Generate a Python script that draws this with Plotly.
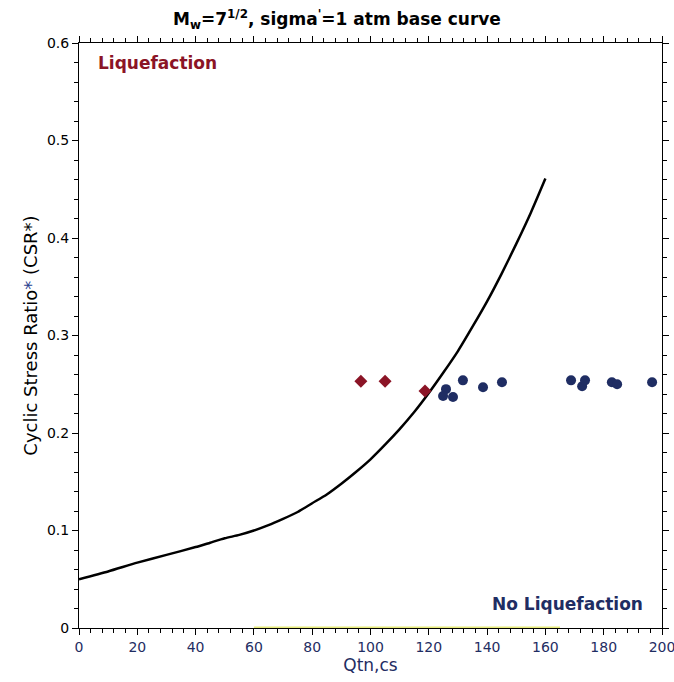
import plotly.graph_objects as go

# Base curve
curve_q = [0, 10, 20, 30, 40, 45, 50, 55, 60, 65, 70, 75, 80, 85, 90, 95, 100, 105,
           110, 115, 120, 125, 130, 135, 140, 145, 150, 155, 160]
curve_csr = [0.050, 0.058, 0.067, 0.075, 0.083, 0.0875, 0.092, 0.0955, 0.100, 0.1055,
             0.112, 0.119, 0.128, 0.137, 0.148, 0.160, 0.173, 0.188, 0.204, 0.2215,
             0.241, 0.262, 0.284, 0.309, 0.335, 0.3635, 0.394, 0.426, 0.461]

# Liquefaction points (red diamonds)
liq_q = [96.7, 105.0, 118.7]
liq_csr = [0.253, 0.253, 0.243]

# No-liquefaction points (blue circles)
noliq_q = [125.9, 124.9, 128.3, 131.7, 138.6, 145.1, 168.8, 172.6, 173.6, 182.8, 184.6, 196.6]
noliq_csr = [0.245, 0.238, 0.237, 0.254, 0.247, 0.252, 0.254, 0.248, 0.254, 0.252, 0.250, 0.252]

x_ticks = [0, 20, 40, 60, 80, 100, 120, 140, 160, 180, 200]
y_ticks = [0, 0.1, 0.2, 0.3, 0.4, 0.5, 0.6]
y_tick_labels = ["0", "0.1", "0.2", "0.3", "0.4", "0.5", "0.6"]

NAVY = "#1f2d63"
DRED = "#8b1426"
FONT = "DejaVu Sans"

fig = go.Figure()
fig.add_trace(go.Scatter(x=[60, 165], y=[0, 0], mode="lines",
                         line=dict(color="#e6ea7a", width=3), hoverinfo="skip", showlegend=False))
fig.add_trace(go.Scatter(x=curve_q, y=curve_csr, mode="lines",
                         line=dict(color="black", width=2.5, shape="spline", smoothing=0.6),
                         showlegend=False))
fig.add_trace(go.Scatter(x=liq_q, y=liq_csr, mode="markers",
                         marker=dict(symbol="diamond", size=10, color=DRED), showlegend=False))
fig.add_trace(go.Scatter(x=noliq_q, y=noliq_csr, mode="markers",
                         marker=dict(symbol="circle", size=10, color=NAVY), showlegend=False))

fig.update_layout(
    width=674, height=682,
    margin=dict(l=79, r=12, t=43, b=54),
    paper_bgcolor="white", plot_bgcolor="white",
    title=dict(text="<b>M<sub>w</sub>=7<sup>1/2</sup>, sigma<sup>'</sup>=1 atm base curve</b>",
               x=0.5, xanchor="center", y=0.972, yanchor="middle",
               font=dict(family=FONT, size=17, color="black")),
    xaxis=dict(range=[0, 200], tickvals=x_ticks, showgrid=False, zeroline=False, automargin=False,
               ticklabeloverflow="allow",
               showline=True, linecolor="black", linewidth=1, mirror="ticks",
               ticks="outside", ticklen=6, tickcolor="black",
               minor=dict(dtick=4, ticks="outside", ticklen=4, tickcolor="black"),
               tickfont=dict(family=FONT, size=14, color=NAVY),
               title=dict(text="Qtn,cs", font=dict(family=FONT, size=17, color=NAVY), standoff=4)),
    yaxis=dict(range=[0, 0.6], tickvals=y_ticks, ticktext=y_tick_labels, showgrid=False, zeroline=False,
               automargin=False,
               showline=True, linecolor="black", linewidth=1, mirror="ticks",
               ticks="outside", ticklen=6, tickcolor="black",
               minor=dict(dtick=0.02, ticks="outside", ticklen=4, tickcolor="black"),
               tickfont=dict(family=FONT, size=14, color="black"),
               title=dict(text="Cyclic Stress Ratio<span style='color:#2b3f8f'>*</span> (CSR*)",
                          font=dict(family=FONT, size=18, color="black"), standoff=4)),
    annotations=[
        dict(x=6, y=0.579, xref="x", yref="y", text="<b>Liquefaction</b>", showarrow=False,
             xanchor="left", yanchor="middle", font=dict(family=FONT, size=17, color=DRED)),
        dict(x=194, y=0.025, xref="x", yref="y", text="<b>No Liquefaction</b>", showarrow=False,
             xanchor="right", yanchor="middle", font=dict(family=FONT, size=17, color=NAVY)),
    ],
)

fig.write_html("out.html")
